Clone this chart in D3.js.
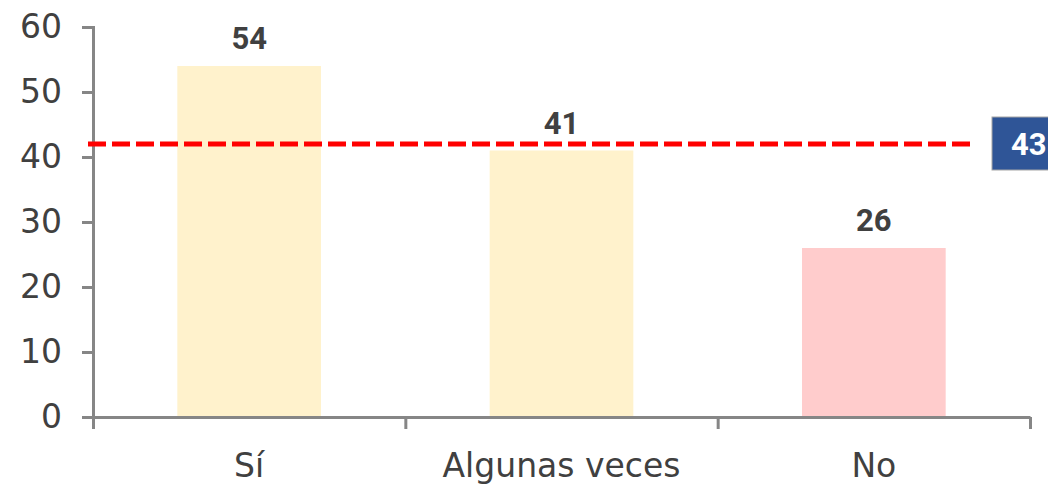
<!DOCTYPE html>
<html>
<head>
<meta charset="utf-8">
<script src="https://cdn.jsdelivr.net/npm/d3@7"></script>
<style>
  body { margin: 0; background: #fff; }
  .axis path, .axis line { stroke: #868686; stroke-width: 3; }
  .axis text { fill: #404040; font-family: "Century Gothic", "DejaVu Sans", sans-serif; font-size: 33px; }
  .valLabel { fill: #404040; font-family: Roboto, "Liberation Sans", sans-serif; font-weight: bold; font-size: 31px; }
</style>
</head>
<body>
<script>
var categories = ["Sí", "Algunas veces", "No"];
var values = [54, 41, 26];
var barColors = ["#FFF2CC", "#FFF2CC", "#FFCCCC"];
var yTicks = [0, 10, 20, 30, 40, 50, 60];
var refLineValue = 42;
var refLabel = "43";

var margin = {top: 27, right: 18, bottom: 69, left: 93},
    width = 1048 - margin.left - margin.right,
    height = 486 - margin.top - margin.bottom;

var svg = d3.select("body").append("svg")
    .attr("width", 1048)
    .attr("height", 486)
  .append("g")
    .attr("transform", "translate(" + margin.left + "," + margin.top + ")");

var x = d3.scaleBand()
    .domain(categories)
    .range([0, width])
    .paddingInner(0.54)
    .paddingOuter(0.27);

var y = d3.scaleLinear()
    .domain([0, 60])
    .range([height, 0]);

// bars
svg.selectAll(".bar")
    .data(values)
  .enter().append("rect")
    .attr("class", "bar")
    .attr("x", function(d, i) { return x(categories[i]); })
    .attr("width", x.bandwidth())
    .attr("y", function(d) { return y(d); })
    .attr("height", function(d) { return height - y(d); })
    .attr("fill", function(d, i) { return barColors[i]; });

// value labels
svg.selectAll(".valLabel")
    .data(values)
  .enter().append("text")
    .attr("class", "valLabel")
    .attr("text-anchor", "middle")
    .attr("x", function(d, i) { return x(categories[i]) + x.bandwidth() / 2; })
    .attr("y", function(d) { return y(d) - 17; })
    .text(function(d) { return d; });

// y axis
svg.append("g")
    .attr("class", "axis")
    .call(d3.axisLeft(y).tickValues(yTicks).tickSize(11).tickSizeOuter(11).tickPadding(20));

// x axis with ticks at band boundaries
var xb = d3.scaleLinear().domain([0, 3]).range([0, width]);
var xAxis = svg.append("g")
    .attr("class", "axis")
    .attr("transform", "translate(0," + height + ")");
xAxis.call(d3.axisBottom(xb).tickValues([0, 1, 2, 3]).tickSize(12).tickSizeOuter(0).tickFormat(""));
xAxis.selectAll(".cat")
    .data(categories)
  .enter().append("text")
    .attr("class", "cat")
    .attr("text-anchor", "middle")
    .attr("x", function(d) { return x(d) + x.bandwidth() / 2; })
    .attr("y", 60)
    .text(function(d) { return d; });

// reference line
svg.append("line")
    .attr("x1", -5)
    .attr("x2", 879)
    .attr("y1", y(refLineValue))
    .attr("y2", y(refLineValue))
    .attr("stroke", "#FF0000")
    .attr("stroke-width", 5)
    .attr("stroke-dasharray", "18,6");

// reference label box
var box = svg.append("g")
    .attr("transform", "translate(" + (899) + "," + (y(refLineValue) - 27) + ")");
box.append("rect")
    .attr("width", 80)
    .attr("height", 53)
    .attr("fill", "#2F5597")
    .attr("stroke", "#A6A6A6")
    .attr("stroke-width", 1);
box.append("text")
    .attr("x", 19)
    .attr("y", 38)
    .attr("fill", "#fff")
    .attr("font-family", "Roboto, 'Liberation Sans', sans-serif")
    .attr("font-weight", "bold")
    .attr("font-size", "31px")
    .text(refLabel);
</script>
</body>
</html>
